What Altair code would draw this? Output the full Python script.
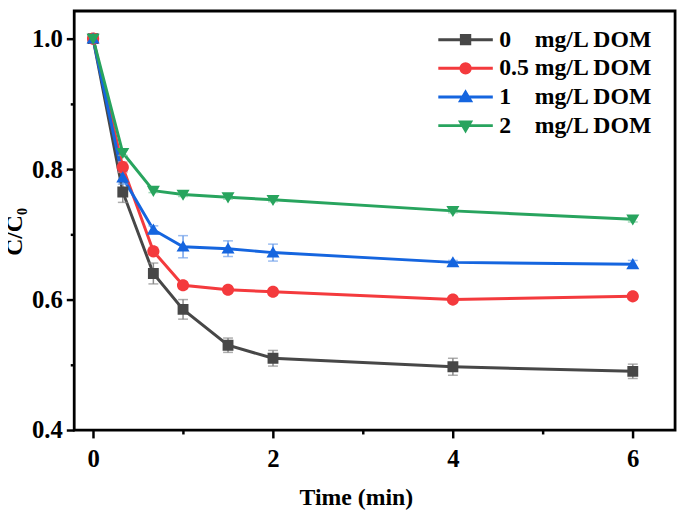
import altair as alt
import pandas as pd

# ---- data ----
time = [0, 0.33, 0.67, 1, 1.5, 2, 4, 6]
series_names = ["0\u00a0\u00a0\u00a0\u00a0mg/L DOM", "0.5\u00a0mg/L DOM",
                "1\u00a0\u00a0\u00a0\u00a0mg/L DOM", "2\u00a0\u00a0\u00a0\u00a0mg/L DOM"]
c_0 = [1.0, 0.765, 0.640, 0.585, 0.530, 0.510, 0.497, 0.490]
c_05 = [1.0, 0.803, 0.674, 0.622, 0.615, 0.612, 0.600, 0.605]
c_1 = [1.0, 0.787, 0.707, 0.681, 0.678, 0.672, 0.657, 0.654]
c_2 = [1.0, 0.825, 0.767, 0.761, 0.757, 0.753, 0.736, 0.723]
e_0 = [0.003, 0.016, 0.016, 0.015, 0.011, 0.012, 0.013, 0.011]
e_05 = [0.003, 0.008, 0.006, 0.005, 0.004, 0.004, 0.004, 0.004]
e_1 = [0.003, 0.010, 0.006, 0.017, 0.012, 0.013, 0.003, 0.006]
e_2 = [0.003, 0.004, 0.003, 0.003, 0.003, 0.003, 0.003, 0.004]

colors = ["#474747", "#f43a3d", "#1565df", "#28a45e"]
bar_colors = ["#8a8a8a", "#f78a8c", "#6f9fea", "#7cc79c"]
shapes = [
    "M-6.5,0H6.5M-1,-1H1V1H-1Z",
    "M-6.5,0H6.5M1.12,0A1.12,1.12,0,1,1,-1.12,0A1.12,1.12,0,1,1,1.12,0Z",
    "M-6.5,0H6.5M0,-1.15L1.2,0.9L-1.2,0.9Z",
    "M-6.5,0H6.5M0,1.15L1.2,-0.9L-1.2,-0.9Z",
]

rows = []
for name, col, bcol, vals, errs in zip(series_names, colors, bar_colors,
                                       [c_0, c_05, c_1, c_2], [e_0, e_05, e_1, e_2]):
    for t, v, e in zip(time, vals, errs):
        rows.append({"series": name, "col": col, "bcol": bcol, "time": t,
                     "value": v, "lo": v - e, "hi": v + e})
df = pd.DataFrame(rows)

FONT = "Liberation Serif"
xscale = alt.Scale(domain=[-0.21, 6.47], nice=False, zero=False)
yscale = alt.Scale(domain=[0.4, 1.0424], nice=False, zero=False)
cscale = alt.Scale(domain=series_names, range=colors)

x_major = alt.Axis(values=[0, 2, 4, 6], format="d", tickSize=8, tickWidth=2.5, tickColor="black",
                   domain=False, grid=False, labelFont=FONT, labelFontSize=25, labelFontWeight="bold",
                   labelColor="black", labelPadding=9, title="Time (min)", titleFont=FONT,
                   titleFontSize=24, titleFontWeight="bold", titleColor="black", titlePadding=14,
                   titleX=285)
y_major = alt.Axis(values=[0.4, 0.6, 0.8, 1.0], format=".1f", tickSize=8, tickWidth=2.5,
                   tickColor="black", domain=False, grid=False, labelFont=FONT, labelFontSize=25,
                   labelFontWeight="bold", labelColor="black", labelPadding=4, title="C/C₀",
                   titleFont=FONT, titleFontSize=24, titleFontWeight="bold", titleColor="black",
                   titlePadding=5, titleY=223)
x_minor = alt.Axis(values=[1, 3, 5], tickSize=4, tickWidth=2.5, tickColor="black", domain=False,
                   grid=False, labels=False, title=None, orient="bottom")
y_minor = alt.Axis(values=[0.5, 0.7, 0.9], tickSize=4, tickWidth=2.5, tickColor="black",
                   domain=False, grid=False, labels=False, title=None, orient="left")

base = alt.Chart(df)

lines = base.mark_line(strokeWidth=3).encode(
    x=alt.X("time:Q", scale=xscale, axis=x_major),
    y=alt.Y("value:Q", scale=yscale, axis=y_major),
    color=alt.Color("col:N", scale=None),
    detail="series:N",
)

bars = base.mark_rule(strokeWidth=1.5).encode(
    x=alt.X("time:Q", scale=xscale, axis=x_minor),
    y=alt.Y("lo:Q", scale=yscale, axis=y_minor),
    y2="hi:Q",
    color=alt.Color("bcol:N", scale=None),
)
caps_lo = base.mark_tick(orient="horizontal", size=10, thickness=1.5).encode(
    x=alt.X("time:Q", scale=xscale, axis=None),
    y=alt.Y("lo:Q", scale=yscale, axis=None),
    color=alt.Color("bcol:N", scale=None),
)
caps_hi = base.mark_tick(orient="horizontal", size=10, thickness=1.5).encode(
    x=alt.X("time:Q", scale=xscale, axis=None),
    y=alt.Y("hi:Q", scale=yscale, axis=None),
    color=alt.Color("bcol:N", scale=None),
)

legend = alt.Legend(title=None, orient="none", legendX=384, legendY=17, padding=0,
                    symbolSize=72, symbolStrokeWidth=3, symbolOpacity=1, labelOffset=22,
                    rowPadding=5, labelFont=FONT, labelFontSize=24, labelFontWeight="bold",
                    labelColor="black", labelLimit=400)

points = base.mark_point(filled=True, size=121, opacity=1).encode(
    x=alt.X("time:Q", scale=xscale, axis=None),
    y=alt.Y("value:Q", scale=yscale, axis=None),
    fill=alt.Fill("series:N", scale=cscale, legend=legend, sort=series_names),
    stroke=alt.Stroke("series:N", scale=cscale, legend=legend, sort=series_names),
    shape=alt.Shape("series:N", scale=alt.Scale(domain=series_names, range=shapes),
                    legend=legend, sort=series_names),
    strokeWidth=alt.value(0),
)

chart = alt.layer(lines, bars, caps_lo, caps_hi, points).resolve_axis(
    x="independent", y="independent"
).properties(
    width=608, height=424,
    autosize=alt.AutoSizeParams(type="none"),
    padding={"left": 67, "top": 0, "right": 6, "bottom": 87},
).configure_view(stroke="black", strokeWidth=2.8)

chart.save("out.html", embed_options={"renderer": "svg", "actions": False})
